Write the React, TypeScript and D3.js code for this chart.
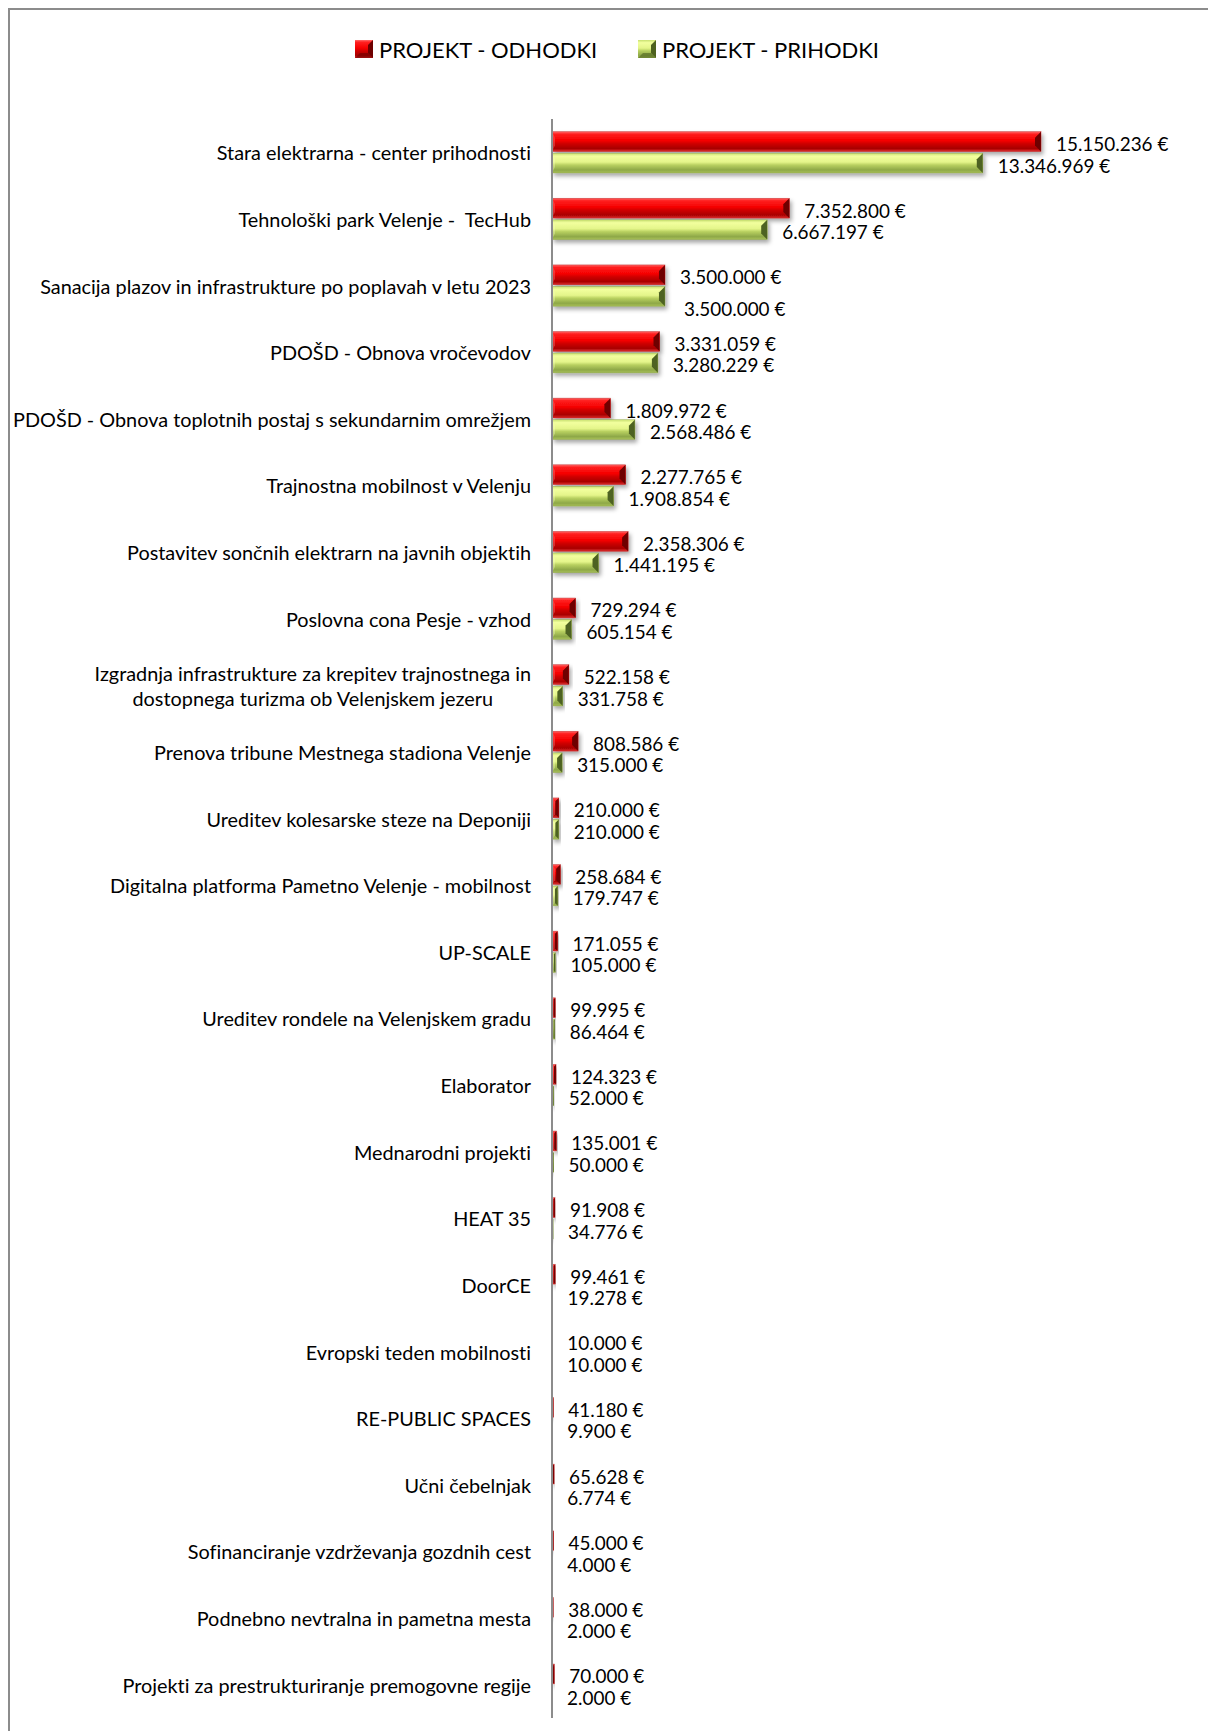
import React, { useEffect, useRef } from "react";
import * as d3 from "d3";

const categories: string[] = [
  "Stara elektrarna - center prihodnosti",
  "Tehnološki park Velenje -  TecHub",
  "Sanacija plazov in infrastrukture po poplavah v letu 2023",
  "PDOŠD - Obnova vročevodov",
  "PDOŠD - Obnova toplotnih postaj s sekundarnim omrežjem",
  "Trajnostna mobilnost v Velenju",
  "Postavitev sončnih elektrarn na javnih objektih",
  "Poslovna cona Pesje - vzhod",
  "Izgradnja infrastrukture za krepitev trajnostnega in|dostopnega turizma ob Velenjskem jezeru",
  "Prenova tribune Mestnega stadiona Velenje",
  "Ureditev kolesarske steze na Deponiji",
  "Digitalna platforma Pametno Velenje - mobilnost",
  "UP-SCALE",
  "Ureditev rondele na Velenjskem gradu",
  "Elaborator",
  "Mednarodni projekti",
  "HEAT 35",
  "DoorCE",
  "Evropski teden mobilnosti",
  "RE-PUBLIC SPACES",
  "Učni čebelnjak",
  "Sofinanciranje vzdrževanja gozdnih cest",
  "Podnebno nevtralna in pametna mesta",
  "Projekti za prestrukturiranje premogovne regije",
];

const odhodki: number[] = [
  15150236, 7352800, 3500000, 3331059, 1809972, 2277765, 2358306, 729294,
  522158, 808586, 210000, 258684, 171055, 99995, 124323, 135001, 91908,
  99461, 10000, 41180, 65628, 45000, 38000, 70000,
];

const prihodki: number[] = [
  13346969, 6667197, 3500000, 3280229, 2568486, 1908854, 1441195, 605154,
  331758, 315000, 210000, 179747, 105000, 86464, 52000, 50000, 34776,
  19278, 10000, 9900, 6774, 4000, 2000, 2000,
];

const seriesNames: string[] = ["PROJEKT - ODHODKI", "PROJEKT - PRIHODKI"];

const W = 1208;
const H = 1731;
const FONT = "Lato, 'Noto Sans', sans-serif";
const CAT_FS = 19.85;
const VAL_FS = 18.9;
const LEG_FS = 22;

export default function App() {
  const ref = useRef<SVGSVGElement | null>(null);

  useEffect(() => {
    const svg = d3.select(ref.current);
    svg.selectAll("*").remove();

    const locale = d3.formatLocale({
      decimal: ",",
      thousands: ".",
      grouping: [3],
      currency: ["", " €"],
    });
    const fmt = locale.format("$,.0f");

    const defs = svg.append("defs");
    const redGrad = defs.append("linearGradient").attr("id", "redG").attr("x1", 0).attr("y1", 0).attr("x2", 0).attr("y2", 1);
    [
      [0, "#ff6a6a"], [0.12, "#ff2020"], [0.45, "#f50000"], [0.6, "#d00000"], [0.85, "#a80000"], [1, "#e03030"],
    ].forEach(([o, c]) => redGrad.append("stop").attr("offset", o as number).attr("stop-color", c as string));
    const greenGrad = defs.append("linearGradient").attr("id", "greenG").attr("x1", 0).attr("y1", 0).attr("x2", 0).attr("y2", 1);
    [
      [0, "#c8e070"], [0.15, "#f2ff9e"], [0.45, "#e4f58a"], [0.6, "#b8d060"], [0.85, "#8ea848"], [1, "#a8c058"],
    ].forEach(([o, c]) => greenGrad.append("stop").attr("offset", o as number).attr("stop-color", c as string));

    const shadow = defs.append("filter").attr("id", "sh").attr("x", "-10%").attr("y", "-30%").attr("width", "130%").attr("height", "190%");
    shadow.append("feDropShadow").attr("dx", 2).attr("dy", 3).attr("stdDeviation", 2).attr("flood-color", "#000").attr("flood-opacity", 0.35);

    svg.append("rect").attr("x", 9).attr("y", 9).attr("width", W + 20).attr("height", H + 20)
      .attr("fill", "none").attr("stroke", "#8c8c8c").attr("stroke-width", 2);

    const x0 = 552;
    const x = d3.scaleLinear().domain([0, 15150236]).range([x0, x0 + 489]);
    const y = d3.scaleBand<string>().domain(categories).range([119, 1718]).paddingInner(0.38).paddingOuter(0.19);
    const sub = d3.scaleBand<number>().domain([0, 1]).range([0, y.bandwidth()]).paddingInner(0.08);

    const styles = [
      { fill: "url(#redG)", cap: "#6e0000", capL: "#ff8080", stroke: "#b00000" },
      { fill: "url(#greenG)", cap: "#4e6220", capL: "#f6ffc0", stroke: "#7d9438" },
    ];

    const drawBar = (g: any, x1: number, y0: number, h: number, s: any) => {
      const w = Math.max(x1 - x0, 0.5);
      const grp = g.append("g").attr("filter", "url(#sh)");
      grp.append("rect").attr("x", x0).attr("y", y0).attr("width", w).attr("height", h).attr("fill", s.fill);
      const b = Math.min(6, w / 2, h / 2);
      grp.append("polygon")
        .attr("points", [[x1 - b, y0 + b], [x1, y0], [x1, y0 + h], [x1 - b, y0 + h - b]].map((p) => p.join(",")).join(" "))
        .attr("fill", s.cap);
      grp.append("polygon")
        .attr("points", [[x0, y0], [x0 + Math.min(3, b), y0 + b], [x0 + Math.min(3, b), y0 + h - b], [x0, y0 + h]].map((p) => p.join(",")).join(" "))
        .attr("fill", s.capL).attr("opacity", 0.35);
      grp.append("rect").attr("x", x0).attr("y", y0).attr("width", w).attr("height", h)
        .attr("fill", "none").attr("stroke", s.stroke).attr("stroke-width", 0.6).attr("opacity", 0.6);
    };

    const series = [odhodki, prihodki];
    const gBars = svg.append("g");
    categories.forEach((cat, i) => {
      const by = y(cat)!;
      series.forEach((vals, si) => {
        const v = vals[i];
        const yy = by + sub(si)!;
        const h = sub.bandwidth();
        drawBar(gBars, x(v), yy, h, styles[si]);
        const extraDy = i === 2 && si === 1 ? 10 : 0;
        const extraDx = i === 2 && si === 1 ? 4 : 0;
        svg.append("text")
          .attr("x", x(v) + 15 + extraDx)
          .attr("y", yy + h / 2 + 2 + extraDy)
          .attr("dominant-baseline", "central")
          .attr("font-family", FONT)
          .attr("font-size", VAL_FS)
          .attr("fill", "#000")
          .text(fmt(v));
      });
    });

    svg.append("line").attr("x1", x0).attr("x2", x0).attr("y1", 119).attr("y2", 1718)
      .attr("stroke", "#8c8c8c").attr("stroke-width", 2);

    const labelX = 531;
    const catText = (xx: number, yy: number, anchor: string, t: string) =>
      svg.append("text").attr("x", xx).attr("y", yy).attr("text-anchor", anchor)
        .attr("dominant-baseline", "central").attr("font-family", FONT).attr("font-size", CAT_FS)
        .style("white-space", "pre").style("font-variant-ligatures", "none")
        .attr("fill", "#000").text(t);
    categories.forEach((cat) => {
      const cy = y(cat)! + y.bandwidth() / 2;
      const lines = cat.split("|");
      if (lines.length === 1) {
        catText(labelX, cy, "end", cat);
      } else {
        const t1 = catText(labelX, cy - 12.5, "end", lines[0]);
        const w1 = (t1.node() as SVGTextElement).getComputedTextLength();
        catText(labelX - w1 / 2, cy + 12.5, "middle", lines[1]);
      }
    });

    const legendItems = [
      { x: 355, s: styles[0], name: seriesNames[0] },
      { x: 638, s: styles[1], name: seriesNames[1] },
    ];
    legendItems.forEach((it) => {
      const sz = 18;
      const ly = 40;
      const g = svg.append("g");
      g.append("rect").attr("x", it.x).attr("y", ly).attr("width", sz).attr("height", sz).attr("fill", it.s.fill);
      const b = 5;
      g.append("polygon")
        .attr("points", [[it.x + sz - b, ly + b], [it.x + sz, ly], [it.x + sz, ly + sz], [it.x + sz - b, ly + sz - b]].map((p) => p.join(",")).join(" "))
        .attr("fill", it.s.cap);
      g.append("polygon")
        .attr("points", [[it.x, ly + sz], [it.x + b, ly + sz - b], [it.x + sz - b, ly + sz - b], [it.x + sz, ly + sz]].map((p) => p.join(",")).join(" "))
        .attr("fill", it.s.cap).attr("opacity", 0.6);
      g.append("text").attr("x", it.x + sz + 6).attr("y", ly + sz / 2).attr("dominant-baseline", "central")
        .attr("font-family", FONT).attr("font-size", LEG_FS).attr("fill", "#000").text(it.name);
    });
  }, []);

  return (
    <svg
      ref={ref}
      width={W}
      height={H}
      style={{ position: "absolute", left: 0, top: 0, background: "#fff" }}
    />
  );
}
